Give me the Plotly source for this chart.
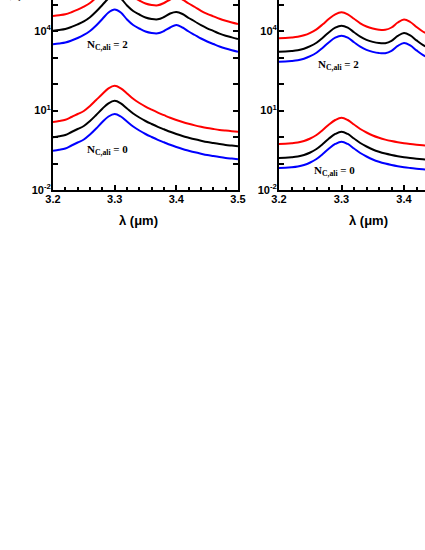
import plotly.graph_objects as go

# ---------------- data ----------------
# wavelength grids (micron)
wl_left = [3.20, 3.21, 3.22, 3.23, 3.24, 3.25, 3.26, 3.27, 3.28, 3.29, 3.30,
           3.31, 3.32, 3.33, 3.34, 3.35, 3.36, 3.37, 3.38, 3.39, 3.40,
           3.41, 3.42, 3.43, 3.44, 3.45, 3.46, 3.47, 3.48, 3.49, 3.50]
wl_right = [3.20, 3.21, 3.22, 3.23, 3.24, 3.25, 3.26, 3.27, 3.28, 3.29, 3.30,
            3.31, 3.32, 3.33, 3.34, 3.35, 3.36, 3.37, 3.38, 3.39, 3.40,
            3.41, 3.42, 3.43, 3.44]

# Left panel, N_C,ali = 2
red_L2 = [36810, 39470, 43050, 51230, 63650, 82600, 113900, 183800, 323100, 568500, 737900,
          568500, 309500, 191900, 141600, 109100, 95750, 93290, 113900, 154400, 191900,
          154400, 109100, 80500, 57850, 44590, 35860, 28870, 24260, 20930, 18370]
black_L2 = [10260, 11000, 12000, 14280, 17750, 23030, 33180, 54430, 95750, 168400, 218600,
            168400, 91680, 56850, 41940, 32310, 28370, 27640, 33760, 45760, 52120,
            43810, 30950, 22830, 16550, 12640, 10090, 7979, 6647, 5735, 4990]
blue_L2 = [3150, 3380, 3680, 4380, 5440, 7070, 10000, 16130, 28370, 49900, 64760,
           49900, 27160, 16840, 12430, 9575, 8405, 8187, 10000, 13560, 16840,
           13560, 9575, 7065, 5212, 4017, 3231, 2601, 2185, 1886, 1656]

# Left panel, N_C,ali = 0
red_L0 = [3.712, 4.016, 4.457, 5.683, 7.378, 9.574, 14.79, 24.90, 41.94, 68.23, 85.52,
          68.23, 43.81, 27.64, 19.19, 14.04, 10.72, 8.330, 6.647, 5.304, 4.381,
          3.681, 3.148, 2.740, 2.426, 2.185, 2.004, 1.853, 1.744, 1.655, 1.585]
black_L0 = [0.9826, 1.063, 1.190, 1.544, 2.004, 2.601, 4.016, 6.765, 11.69, 18.69, 23.23,
            18.53, 11.90, 7.705, 5.443, 4.016, 3.094, 2.426, 1.952, 1.571, 1.298,
            1.091, 0.9410, 0.8188, 0.7251, 0.6477, 0.5937, 0.5442, 0.5032, 0.4734, 0.4457]
blue_L0 = [0.3041, 0.3289, 0.3681, 0.4777, 0.6201, 0.8048, 1.243, 2.092, 3.681, 5.937, 7.378,
           5.937, 3.845, 2.490, 1.759, 1.298, 1.000, 0.7842, 0.6310, 0.5078, 0.4195,
           0.3525, 0.3041, 0.2646, 0.2343, 0.2093, 0.1919, 0.1759, 0.1627, 0.1530, 0.1440]

# Right panel, N_C,ali = 2
red_R2 = [5303, 5397, 5636, 6040, 6880, 8552, 11590, 17900, 28870, 42690, 50770,
          42690, 28870, 19530, 14790, 12430, 11200, 11100, 13560, 20930, 27160,
          21860, 14160, 9575, 7378]
black_R2 = [1655, 1684, 1759, 1885, 2147, 2669, 3617, 5587, 9010, 13320, 15850,
            13320, 9010, 6095, 4616, 3879, 3496, 3464, 4232, 6532, 8477,
            6822, 4419, 2988, 2303]
blue_R2 = [694, 706, 738, 791, 901, 1120, 1517, 2344, 3780, 5588, 6649,
           5588, 3780, 2557, 1936, 1627, 1467, 1453, 1775, 2740, 3556,
           2862, 1854, 1253, 966]

# Right panel, N_C,ali = 0
red_R0 = [0.5442, 0.5538, 0.5783, 0.6201, 0.7063, 0.8779, 1.190, 1.837, 2.963, 4.381, 5.350,
          4.381, 2.963, 2.004, 1.479, 1.139, 0.9328, 0.7979, 0.7063, 0.6364, 0.5834,
          0.5442, 0.5122, 0.4862, 0.4655]
black_R0 = [0.1613, 0.1641, 0.1714, 0.1838, 0.2093, 0.2602, 0.3527, 0.5445, 0.8782, 1.299, 1.586,
            1.299, 0.8782, 0.5940, 0.4384, 0.3376, 0.2765, 0.2365, 0.2093, 0.1886, 0.1729,
            0.1613, 0.1518, 0.1441, 0.1380]
blue_R0 = [0.0677, 0.0688, 0.0719, 0.0771, 0.0878, 0.1092, 0.1480, 0.2284, 0.3684, 0.5450, 0.6653,
           0.5450, 0.3684, 0.2492, 0.1839, 0.1416, 0.1160, 0.0992, 0.0878, 0.0791, 0.0725,
           0.0677, 0.0637, 0.0605, 0.0579]

x_tick_vals = [3.2, 3.3, 3.4, 3.5]
x_tick_text = ["3.2", "3.3", "3.4", "3.5"]
y_tick_vals = [1e-2, 1e1, 1e4]
y_tick_text = ["10<sup>-2</sup>", "10<sup>1</sup>", "10<sup>4</sup>"]
y_minor_vals = [1e-1, 1e0, 1e2, 1e3, 1e5]
label_N2 = "N<sub>C,ali</sub> = 2"
label_N0 = "N<sub>C,ali</sub> = 0"
x_title = "λ (μm)"
y_title = "λ I<sub>λ</sub> (arb. units)"

# ---------------- figure ----------------
fig = go.Figure()
colors = {"red": "#ff0000", "black": "#000000", "blue": "#0000ff"}

def add(x, y, color, xa, ya):
    fig.add_trace(go.Scatter(x=x, y=y, mode="lines", xaxis=xa, yaxis=ya,
                             line=dict(color=color, width=2, shape="spline", smoothing=1.0),
                             showlegend=False, hoverinfo="skip"))

for (ys, c) in [(red_L2, "red"), (black_L2, "black"), (blue_L2, "blue")]:
    add(wl_left, ys, colors[c], "x", "y")
for (ys, c) in [(red_L0, "red"), (black_L0, "black"), (blue_L0, "blue")]:
    add(wl_left, ys, colors[c], "x", "y")
for (ys, c) in [(red_R2, "red"), (black_R2, "black"), (blue_R2, "blue")]:
    add(wl_right, ys, colors[c], "x2", "y2")
for (ys, c) in [(red_R0, "red"), (black_R0, "black"), (blue_R0, "blue")]:
    add(wl_right, ys, colors[c], "x2", "y2")

tickfont = dict(family="Liberation Sans, Arial", size=11, color="black")

xcommon = dict(showline=True, linecolor="black", linewidth=2, ticks="inside",
               ticklen=5, tickwidth=1.5, tickcolor="black",
               tickvals=x_tick_vals, ticktext=["<b>" + t + "</b>" for t in x_tick_text],
               tickfont=tickfont, showgrid=False, zeroline=False, automargin=False,
               ticklabelstandoff=-2,
               minor=dict(dtick=0.02, tick0=3.2, ticks="inside", ticklen=3,
                          tickwidth=1.5, tickcolor="black", showgrid=False))
ycommon = dict(type="log", range=[-2, 5.17], showline=True, linecolor="black",
               linewidth=2, ticks="inside", ticklen=5, tickwidth=1.5,
               tickcolor="black", tickvals=y_tick_vals,
               ticktext=["<b>" + t + "</b>" for t in y_tick_text],
               tickfont=tickfont, showgrid=False, zeroline=False, automargin=False,
               ticklabelstandoff=-2,
               minor=dict(tickmode="array", tickvals=y_minor_vals, ticks="inside",
                          ticklen=5, tickwidth=1.5, tickcolor="black", showgrid=False))

fig.update_layout(
    width=425, height=550,
    margin=dict(l=0, r=0, t=0, b=360, autoexpand=False),
    paper_bgcolor="white", plot_bgcolor="white",
    xaxis=dict(domain=[53 / 425, 238 / 425], range=[3.2, 3.5], anchor="y", **xcommon),
    yaxis=dict(anchor="x", mirror="ticks", **ycommon),
    xaxis2=dict(domain=[279 / 425, 1.0], range=[3.2, 3.4336], anchor="y2", **xcommon),
    yaxis2=dict(anchor="x2", **ycommon),
)

ann_font = dict(family="Liberation Serif, Times New Roman", size=11, color="black")
title_font = dict(family="Liberation Sans, Arial", size=13, color="black")

def pxx(px):
    return px / 425

def pxy(py):
    return (190 - py) / 190

annotations = [
    dict(text="<b>" + label_N2 + "</b>", x=pxx(85), y=pxy(45), xanchor="left", yanchor="middle"),
    dict(text="<b>" + label_N0 + "</b>", x=pxx(85), y=pxy(150), xanchor="left", yanchor="middle"),
    dict(text="<b>" + label_N2 + "</b>", x=pxx(316), y=pxy(65), xanchor="left", yanchor="middle"),
    dict(text="<b>" + label_N0 + "</b>", x=pxx(312), y=pxy(171), xanchor="left", yanchor="middle"),
]
for a in annotations:
    fig.add_annotation(xref="paper", yref="paper", showarrow=False, font=ann_font, **a)

fig.add_annotation(xref="paper", yref="paper", x=pxx(138), y=pxy(220), text="<b>" + x_title + "</b>",
                   showarrow=False, font=title_font, xanchor="center", yanchor="middle")
fig.add_annotation(xref="paper", yref="paper", x=pxx(368), y=pxy(220), text="<b>" + x_title + "</b>",
                   showarrow=False, font=title_font, xanchor="center", yanchor="middle")
fig.add_annotation(xref="paper", yref="paper", x=pxx(16), y=pxy(3), text="<b>" + y_title + "</b>",
                   showarrow=False, font=title_font, textangle=-90,
                   xanchor="center", yanchor="bottom")

fig.write_html("out.html", config={"displayModeBar": False},
               post_script="document.body.style.margin='0px';")
